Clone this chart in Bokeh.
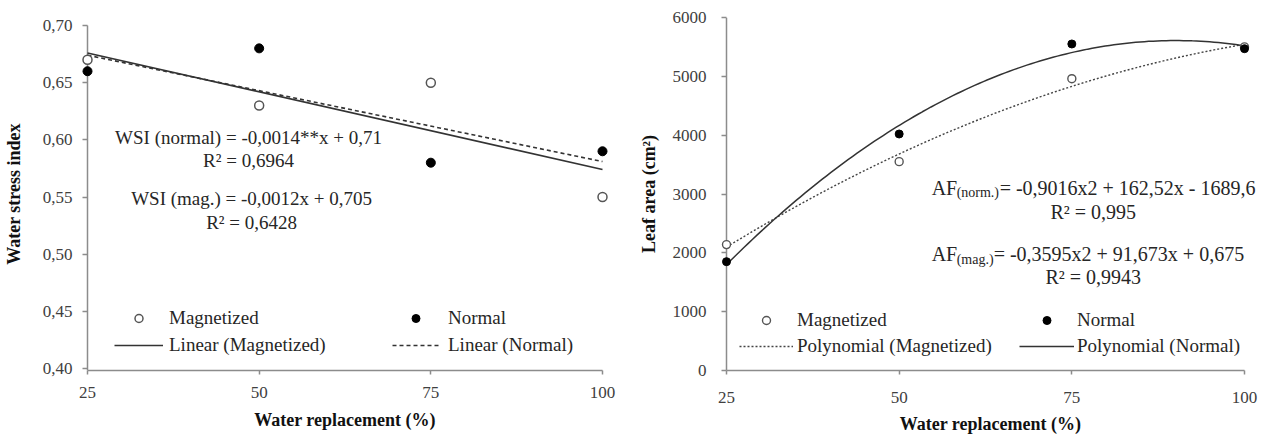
import numpy as np
from bokeh.plotting import figure
from bokeh.layouts import row
from bokeh.models import Range1d, FixedTicker, Legend, LegendItem, Label
from bokeh.embed import file_html
from bokeh.resources import INLINE

# ---------------- data ----------------
water_replacement = [25, 50, 75, 100]
wsi_magnetized = [0.67, 0.63, 0.65, 0.55]
wsi_normal = [0.66, 0.68, 0.58, 0.59]
leaf_magnetized = [2140, 3550, 4960, 5500]
leaf_normal = [1850, 4020, 5550, 5470]

x_ticks = [25, 50, 75, 100]
x_tick_labels = ["25", "50", "75", "100"]
wsi_ticks = [0.40, 0.45, 0.50, 0.55, 0.60, 0.65, 0.70]
wsi_tick_labels = ["0,40", "0,45", "0,50", "0,55", "0,60", "0,65", "0,70"]
leaf_ticks = [0, 1000, 2000, 3000, 4000, 5000, 6000]
leaf_tick_labels = ["0", "1000", "2000", "3000", "4000", "5000", "6000"]

series_names = ["Magnetized", "Normal"]
wsi_fit_names = ["Linear (Magnetized)", "Linear (Normal)"]
leaf_fit_names = ["Polynomial (Magnetized)", "Polynomial (Normal)"]

wsi_equations = ["WSI (normal) = -0,0014**x + 0,71", "R\u00b2 = 0,6964",
                 "WSI (mag.) = -0,0012x + 0,705", "R\u00b2 = 0,6428"]
leaf_eq_parts = [("AF", "(norm.)", "= -0,9016x2 + 162,52x - 1689,6"),
                 ("AF", "(mag.)", "= -0,3595x2 + 91,673x + 0,675")]
leaf_r2 = ["R\u00b2 = 0,995", "R\u00b2 = 0,9943"]

# ---------------- style ----------------
FONT = "Liberation Serif"
AXIS_COLOR = "#8c8c8c"
TICK_TEXT = "#404040"
TEXT = "#262626"
LINE = "#333333"
FRAME_TOP = 17
BORDER_BOTTOM = 66


def build(axis_w, axis_h, pad, x_lo, x_hi, y_lo, y_hi, ticks_y, labels_y,
          y_title, border_left, border_right, y_std, y_title_std, x_std, x_title_std):
    # pad = (left, right, top, bottom) in px around the axes' own extent
    pl, pr, pt, pb = pad
    ppx = axis_w / (x_hi - x_lo)
    ppy = axis_h / (y_hi - y_lo)
    x_range = Range1d(x_lo - pl / ppx, x_hi + pr / ppx)
    y_range = Range1d(y_lo - pb / ppy, y_hi + pt / ppy)
    p = figure(title=None, frame_width=axis_w + pl + pr, frame_height=axis_h + pt + pb,
               x_range=x_range, y_range=y_range,
               output_backend="svg", toolbar_location=None,
               min_border_left=border_left, min_border_right=border_right,
               min_border_top=FRAME_TOP, min_border_bottom=BORDER_BOTTOM)
    p.outline_line_color = None
    p.xgrid.visible = False
    p.ygrid.visible = False
    p.background_fill_color = "white"
    p.border_fill_color = "white"

    # y axis line drawn at x = first x tick (the frame is padded so edge marks are not clipped)
    p.segment(x0=[x_lo], y0=[y_range.start], x1=[x_lo], y1=[y_hi],
              line_color=AXIS_COLOR, line_width=1.5)

    xa = p.xaxis[0]
    xa.ticker = FixedTicker(ticks=x_ticks)
    xa.major_label_overrides = dict(zip(x_ticks, x_tick_labels))
    xa.bounds = (x_lo, x_hi)
    ya = p.yaxis[0]
    ya.ticker = FixedTicker(ticks=ticks_y)
    ya.major_label_overrides = dict(zip(ticks_y, labels_y))
    for ax in (xa, ya):
        ax.axis_line_color = AXIS_COLOR
        ax.axis_line_width = 1.5
        ax.major_tick_line_color = AXIS_COLOR
        ax.major_tick_line_width = 1.5
        ax.minor_tick_line_color = None
        ax.major_label_text_font = FONT
        ax.major_label_text_font_size = "17px"
        ax.major_label_text_color = TICK_TEXT
        ax.axis_label_text_font = FONT
        ax.axis_label_text_font_size = "18px"
        ax.axis_label_text_font_style = "bold"
        ax.axis_label_text_color = "#111111"
    xa.major_tick_in = 0
    xa.major_tick_out = 4
    ya.axis_line_color = None
    ya.major_tick_in = pl
    ya.major_tick_out = 5 - pl
    xa.major_label_standoff = x_std
    ya.major_label_standoff = y_std
    xa.axis_label = "Water replacement (%)"
    ya.axis_label = y_title
    xa.axis_label_standoff = x_title_std
    ya.axis_label_standoff = y_title_std
    return p


def legend(items, x, y, gw, standoff, spacing):
    return Legend(items=items, location=(x, y), orientation="vertical",
                  glyph_width=gw, glyph_height=20, label_height=20, label_width=10,
                  spacing=spacing, padding=0, margin=0, label_standoff=standoff,
                  border_line_color=None, background_fill_alpha=0,
                  label_text_font=FONT, label_text_font_size="19px",
                  label_text_color=TEXT)


# ---------------- left chart: water stress index ----------------
p1 = build(515, 343, (10, 10, 8, 2), 25, 100, 0.40, 0.70, wsi_ticks, wsi_tick_labels,
           "Water stress index", 76, 9, 5, 16, 12, 9)

xs_lin = [min(water_replacement), max(water_replacement)]
fit_m = np.polyfit(water_replacement, wsi_magnetized, 1)
fit_n = np.polyfit(water_replacement, wsi_normal, 1)
l_m = p1.line(xs_lin, np.polyval(fit_m, xs_lin), line_color=LINE, line_width=1.6)
l_n = p1.line(xs_lin, np.polyval(fit_n, xs_lin), line_color=LINE, line_width=1.6,
              line_dash="4 3")
s_m = p1.scatter(water_replacement, wsi_magnetized, marker="circle", size=9,
                 fill_color="white", line_color="#555555", line_width=1.5)
s_n = p1.scatter(water_replacement, wsi_normal, marker="circle", size=9,
                 fill_color="black", line_color="black")

p1.add_layout(legend([LegendItem(label=series_names[0], renderers=[s_m]),
                      LegendItem(label=wsi_fit_names[0], renderers=[l_m])],
                     37, 14, 49, 6, 5))
p1.add_layout(legend([LegendItem(label=series_names[1], renderers=[s_n]),
                      LegendItem(label=wsi_fit_names[1], renderers=[l_n])],
                     315, 14, 47, 9, 5))

wsi_eq_pos = [(48.45, 0.602), (48.45, 0.582), (48.9, 0.5487), (48.9, 0.5277)]
for txt, (ex, ey) in zip(wsi_equations, wsi_eq_pos):
    p1.add_layout(Label(x=ex, y=ey, text=txt, text_font=FONT, text_font_size="19px",
                        text_color=TEXT, text_align="center", text_baseline="middle"))

# ---------------- right chart: leaf area ----------------
p2 = build(518, 353, (10, 20, 0, 0), 25, 100, 0, 6000, leaf_ticks, leaf_tick_labels,
           "Leaf area (cm\u00b2)", 95, 2, 10, 11, 17, 8)

xs_curve = np.linspace(min(water_replacement), max(water_replacement), 120)
q_m = np.polyfit(water_replacement, leaf_magnetized, 2)
q_n = np.polyfit(water_replacement, leaf_normal, 2)
c_m = p2.line(xs_curve, np.polyval(q_m, xs_curve), line_color="#444444", line_width=1.4,
              line_dash="2 2")
c_n = p2.line(xs_curve, np.polyval(q_n, xs_curve), line_color=LINE, line_width=1.5)
t_m = p2.scatter(water_replacement, leaf_magnetized, marker="circle", size=8,
                 fill_color="white", line_color="#555555", line_width=1.4)
t_n = p2.scatter(water_replacement, leaf_normal, marker="circle", size=8,
                 fill_color="black", line_color="black")

p2.add_layout(legend([LegendItem(label=series_names[0], renderers=[t_m]),
                      LegendItem(label=leaf_fit_names[0], renderers=[c_m])],
                     23, 13, 54, 4, 4))
p2.add_layout(legend([LegendItem(label=series_names[1], renderers=[t_n]),
                      LegendItem(label=leaf_fit_names[1], renderers=[c_n])],
                     303, 13, 55, 3, 4))

px_per_unit_y = 353 / 6000.0
sub_drop = 5 / px_per_unit_y
leaf_eq_pos = [(54.7, 3110), (54.7, 1978)]
sub_offsets = [(25, 68), (25, 62)]
for (a, sub, rest), (ex, ey), (o1, o2) in zip(leaf_eq_parts, leaf_eq_pos, sub_offsets):
    p2.add_layout(Label(x=ex, y=ey, text=a, text_font=FONT, text_font_size="20px",
                        text_color=TEXT, text_align="left", text_baseline="middle"))
    p2.add_layout(Label(x=ex, y=ey - sub_drop, x_offset=o1, text=sub, text_font=FONT,
                        text_font_size="14px", text_color=TEXT, text_align="left",
                        text_baseline="middle"))
    p2.add_layout(Label(x=ex, y=ey, x_offset=o2, text=rest, text_font=FONT,
                        text_font_size="20px", text_color=TEXT, text_align="left",
                        text_baseline="middle"))

leaf_r2_pos = [(78.1, 2687), (78.1, 1589)]
for txt, (ex, ey) in zip(leaf_r2, leaf_r2_pos):
    p2.add_layout(Label(x=ex, y=ey, text=txt, text_font=FONT, text_font_size="20px",
                        text_color=TEXT, text_align="center", text_baseline="middle"))

layout = row(p1, p2, spacing=0)
open("out.html", "w").write(file_html(layout, INLINE))
